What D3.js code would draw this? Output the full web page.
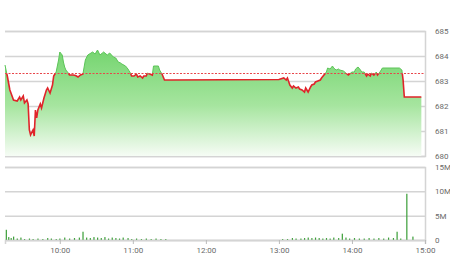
<!DOCTYPE html>
<html>
<head>
<meta charset="utf-8">
<script src="https://cdn.jsdelivr.net/npm/d3@7"></script>
<style>
  body { margin: 0; background: #fff; }
  svg text { font-family: Roboto, "Noto Sans", sans-serif; }
</style>
</head>
<body>
<svg id="chart"></svg>
<script>
const width = 450, height = 280;

// ---- data ----
const refPrice = 683.3;

const priceTimes = ["09:15","09:17","09:19","09:22","09:25","09:27","09:28","09:30","09:31","09:33","09:34","09:35","09:36","09:38","09:39","09:40","09:41","09:42","09:44","09:45","09:47","09:49","09:50","09:52","09:54","09:55","09:57","09:59","10:00","10:02","10:03","10:04","10:05","10:07","10:08","10:11","10:13","10:15","10:17","10:19","10:21","10:23","10:27","10:29","10:31","10:33","10:35","10:36","10:39","10:41","10:44","10:46","10:48","10:50","10:51","10:54","10:56","10:58","10:59","11:01","11:03","11:04","11:06","11:08","11:09","11:11","11:12","11:14","11:16","11:17","11:19","11:21","11:22","11:24","11:25","11:26","11:28","11:30","13:00","13:04","13:06","13:07","13:09","13:11","13:12","13:14","13:16","13:17","13:19","13:21","13:22","13:24","13:26","13:27","13:29","13:30","13:32","13:34","13:35","13:37","13:39","13:40","13:42","13:44","13:45","13:47","13:49","13:50","13:53","13:55","13:57","13:58","14:00","14:02","14:03","14:05","14:07","14:08","14:10","14:12","14:13","14:15","14:16","14:18","14:20","14:21","14:23","14:25","14:39","14:41","14:42","14:43","14:57"];
const priceValues = [683.64,683.17,682.64,682.24,682.2,682.36,682.24,682.4,682.12,682.24,682.08,681.04,680.84,681.04,680.8,681.84,681.52,681.84,682.08,681.92,682.32,682.64,682.72,682.52,682.84,683.2,683.36,683.84,684.16,684.04,683.76,683.56,683.44,683.32,683.24,683.24,683.22,683.16,683.24,683.28,683.84,684.04,684.16,684.08,684.24,684.04,684.12,684.16,684.04,684.12,683.96,683.92,683.76,683.72,683.68,683.6,683.48,683.32,683.2,683.2,683.28,683.16,683.2,683.12,683.2,683.2,683.32,683.28,683.24,683.6,683.6,683.6,683.44,683.28,683.16,683.04,683.04,683.04,683.06,683.12,683.04,683.12,682.84,682.72,682.8,682.72,682.76,682.68,682.64,682.56,682.72,682.56,682.76,682.84,682.88,682.96,683.0,683.04,683.12,683.24,683.36,683.52,683.48,683.6,683.52,683.44,683.48,683.44,683.4,683.32,683.24,683.28,683.36,683.36,683.48,683.56,683.44,683.36,683.36,683.2,683.28,683.2,683.32,683.24,683.36,683.24,683.36,683.52,683.52,683.44,683.04,682.36,682.36];

const volTimes = ["09:16","09:18","09:20","09:22","09:25","09:28","09:31","09:35","09:38","09:42","09:46","09:50","09:53","09:57","10:00","10:04","10:08","10:12","10:16","10:19","10:22","10:25","10:28","10:31","10:34","10:37","10:40","10:43","10:46","10:49","10:52","10:56","10:59","11:03","11:07","11:11","11:15","11:19","11:23","11:27","13:03","13:07","13:11","13:14","13:18","13:21","13:24","13:27","13:30","13:33","13:36","13:39","13:42","13:45","13:49","13:52","13:55","13:58","14:02","14:06","14:10","14:14","14:18","14:22","14:26","14:30","14:34","14:37","14:40","14:45","14:50"];
const volValues = [2.1,0.6,0.4,0.7,0.3,0.5,0.2,0.3,0.2,0.3,0.2,0.4,0.3,0.2,0.3,0.5,0.3,0.4,0.5,1.7,0.5,0.4,0.6,0.5,0.4,0.6,0.3,0.5,0.4,0.3,0.5,0.4,0.2,0.3,0.2,0.3,0.2,0.3,0.2,0.2,0.2,0.2,0.4,0.3,0.3,0.4,0.5,0.4,0.5,0.4,0.3,0.4,0.3,0.5,0.4,1.3,0.5,0.3,0.4,0.3,0.3,0.4,0.3,0.4,0.3,0.5,0.4,1.7,0.3,9.5,0.7];

const priceTicks = [680, 681, 682, 683, 684, 685];
const volTicks = [0, 5, 10, 15];
const timeTicks = ["10:00","11:00","12:00","13:00","14:00","15:00"];

// ---- setup ----
const parseTime = d3.timeParse("%H:%M");
const svg = d3.select("#chart").attr("width", width).attr("height", height);

const x = d3.scaleTime()
    .domain([parseTime("09:15"), parseTime("15:00")])
    .range([5, 425]);

const yPrice = d3.scaleLinear().domain([680, 685]).range([156, 31]);
const yVol = d3.scaleLinear().domain([0, 15]).range([240, 167]);

const prices = priceTimes.map((t, i) => ({ t: parseTime(t), v: priceValues[i] }));
const vols = volTimes.map((t, i) => ({ t: parseTime(t), v: volValues[i] }));

const gridColor = "#d4d4d4";
const labelColor = "#6a6a6a";

// gradient for the price area
const defs = svg.append("defs");
const grad = defs.append("linearGradient")
    .attr("id", "areaGrad")
    .attr("gradientUnits", "userSpaceOnUse")
    .attr("x1", 0).attr("x2", 0)
    .attr("y1", yPrice(684.5)).attr("y2", yPrice(680));
grad.append("stop").attr("offset", "0%").attr("stop-color", "#6fd36a");
grad.append("stop").attr("offset", "55%").attr("stop-color", "#a6e59f");
grad.append("stop").attr("offset", "100%").attr("stop-color", "#f6fcf5");

defs.append("clipPath").attr("id", "above")
    .append("rect").attr("x", 0).attr("y", 0)
    .attr("width", width).attr("height", yPrice(refPrice));
defs.append("clipPath").attr("id", "below")
    .append("rect").attr("x", 0).attr("y", yPrice(refPrice))
    .attr("width", width).attr("height", height);

// ---- price panel ----
const priceAxis = svg.append("g")
    .attr("transform", "translate(425,0)")
    .call(d3.axisRight(yPrice).tickValues(priceTicks).tickSize(-420).tickFormat(d3.format("d")));
priceAxis.select(".domain").attr("stroke", gridColor).attr("stroke-width", 1.5);
priceAxis.selectAll(".tick line").attr("stroke", gridColor).attr("stroke-width", 1.5);
priceAxis.selectAll(".tick text")
    .attr("x", 10).attr("fill", labelColor).attr("font-size", 8);

const area = d3.area()
    .x(d => x(d.t))
    .y0(yPrice(680))
    .y1(d => yPrice(d.v));

svg.append("path")
    .datum(prices)
    .attr("d", area)
    .attr("fill", "url(#areaGrad)");

const line = d3.line()
    .x(d => x(d.t))
    .y(d => yPrice(d.v));

svg.append("path")
    .datum(prices)
    .attr("d", line)
    .attr("fill", "none")
    .attr("stroke", "#5cc458")
    .attr("stroke-width", 1)
    .attr("clip-path", "url(#above)");

svg.append("path")
    .datum(prices)
    .attr("d", line)
    .attr("fill", "none")
    .attr("stroke", "#e0242a")
    .attr("stroke-width", 1.6)
    .attr("clip-path", "url(#below)");

svg.append("line")
    .attr("x1", 5).attr("x2", 425)
    .attr("y1", yPrice(refPrice)).attr("y2", yPrice(refPrice))
    .attr("stroke", "#e8454a")
    .attr("stroke-width", 1)
    .attr("stroke-dasharray", "2,1.5");

// ---- volume panel ----
const volAxis = svg.append("g")
    .attr("transform", "translate(425,0)")
    .call(d3.axisRight(yVol).tickValues(volTicks).tickSize(-420)
        .tickFormat(d => d === 0 ? "0" : d + "M"));
volAxis.select(".domain").attr("stroke", gridColor).attr("stroke-width", 1.5);
volAxis.selectAll(".tick line").attr("stroke", gridColor).attr("stroke-width", 1.5);
volAxis.selectAll(".tick text")
    .attr("x", 10).attr("fill", labelColor).attr("font-size", 8);

svg.append("g")
    .selectAll("rect")
    .data(vols)
    .join("rect")
    .attr("x", d => x(d.t) - 0.5)
    .attr("width", 1.2)
    .attr("y", d => yVol(d.v))
    .attr("height", d => yVol(0) - yVol(d.v))
    .attr("fill", "#3a9e37");

const timeAxis = svg.append("g")
    .attr("transform", "translate(0,240)")
    .call(d3.axisBottom(x).tickValues(timeTicks.map(parseTime))
        .tickSize(4).tickFormat(d3.timeFormat("%H:%M")));
timeAxis.select(".domain").attr("stroke", gridColor).attr("stroke-width", 1.5);
timeAxis.selectAll(".tick line").attr("stroke", "#bbb");
timeAxis.selectAll(".tick text")
    .attr("y", 7).attr("fill", labelColor).attr("font-size", 8);
</script>
</body>
</html>
